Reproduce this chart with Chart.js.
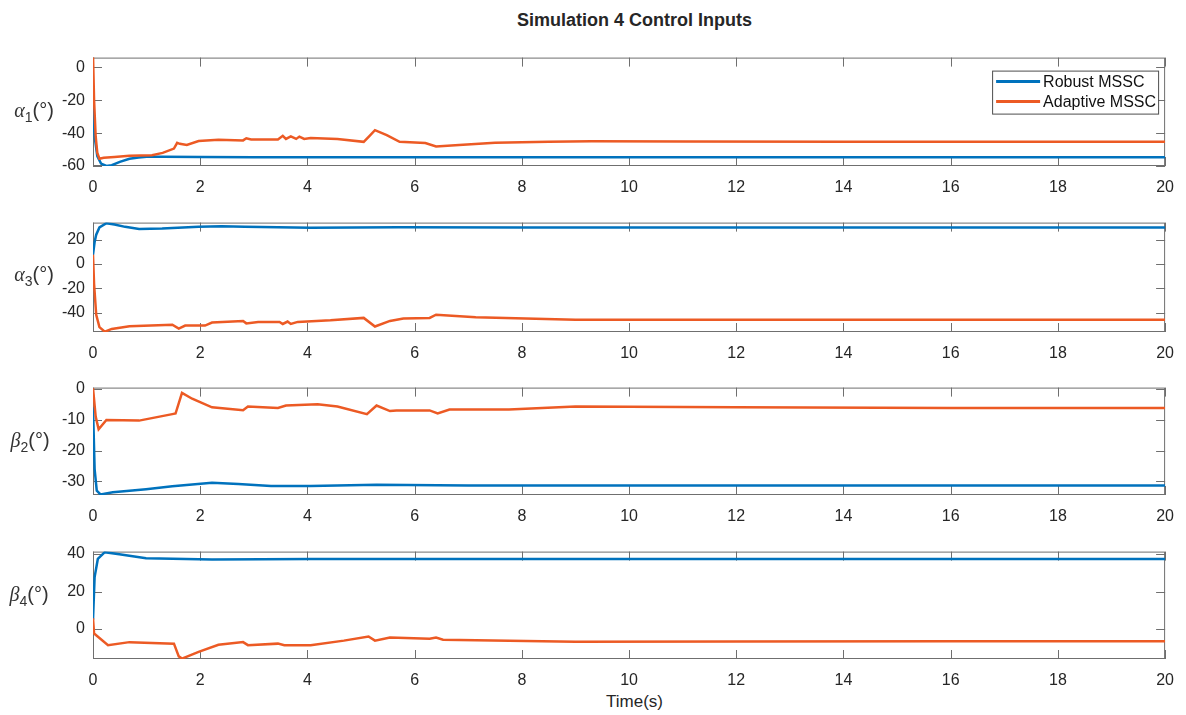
<!DOCTYPE html>
<html>
<head>
<meta charset="utf-8">
<script src="https://cdn.jsdelivr.net/npm/chart.js@4.4.0/dist/chart.umd.min.js"></script>
<style>
  html, body { margin: 0; padding: 0; background: #fff; }
  body { width: 1186px; height: 715px; position: relative; overflow: hidden;
         font-family: "Liberation Sans", Arial, sans-serif; color: #262626; }
  .panel { position: absolute; left: 0; width: 1186px; }
  .title { position: absolute; top: 10px; left: 93px; width: 1083px; text-align: center;
           font-weight: bold; font-size: 18px; }
  .xlabel { position: absolute; top: 692px; left: 93px; width: 1083px; text-align: center; font-size: 17px; }
  .ylab { position: absolute; font-size: 20px; color: #333; white-space: nowrap; transform: translate(-50%, -50%); }
  .ylab i { font-family: "Liberation Serif", serif; }
  .ylab sub { font-size: 14px; }
</style>
</head>
<body>
<div class="title">Simulation 4 Control Inputs</div>

<div class="panel" style="top:40px;height:154px"><canvas id="c1"></canvas></div>
<div class="panel" style="top:205px;height:155px"><canvas id="c2"></canvas></div>
<div class="panel" style="top:370px;height:153px"><canvas id="c3"></canvas></div>
<div class="panel" style="top:534px;height:153px"><canvas id="c4"></canvas></div>

<div class="ylab" style="left:34px;top:112px"><i>α</i><sub>1</sub>(°)</div>
<div class="ylab" style="left:34px;top:276px"><i>α</i><sub>3</sub>(°)</div>
<div class="ylab" style="left:30px;top:442px"><i>β</i><sub>2</sub>(°)</div>
<div class="ylab" style="left:29px;top:596px"><i>β</i><sub>4</sub>(°)</div>

<div class="xlabel">Time(s)</div>

<script>
// series names
const seriesNames = ['Robust MSSC', 'Adaptive MSSC'];
const xTicks = [0, 2, 4, 6, 8, 10, 12, 14, 16, 18, 20];

// alpha_1
const a1RobustT = [0, 0.03, 0.08, 0.15, 0.25, 0.35, 0.5, 0.68, 0.85, 1.0, 1.3, 2, 3, 4, 6, 8, 10, 14, 20];
const a1Robust  = [-25, -42, -54, -58.5, -60, -59.5, -57.5, -55.6, -54.8, -54.4, -54.3, -54.5, -54.6, -54.6, -54.7, -54.7, -54.7, -54.7, -54.7];
const a1AdaptT  = [0, 0.02, 0.05, 0.08, 0.12, 0.2, 0.4, 0.68, 1.1, 1.3, 1.51, 1.57, 1.62, 1.75, 1.97, 2.34, 2.8, 2.86, 2.95, 3.45, 3.54, 3.6, 3.69, 3.79, 3.85, 3.94, 4.06, 4.56, 5.05, 5.16, 5.26, 5.48, 5.72, 6.2, 6.4, 6.83, 7.5, 8.5, 9.3, 11, 14, 17, 20];
const a1Adapt   = [8, -20, -42, -52, -55.6, -55, -54.5, -53.8, -53.4, -52, -49.4, -45.9, -46.5, -47.2, -44.8, -44, -44.4, -43.1, -43.8, -43.8, -41.6, -43.5, -42, -43.5, -42.1, -43.5, -42.9, -43.5, -45.3, -41.6, -38.2, -41.2, -45.3, -46, -48.1, -47.2, -45.9, -45.2, -44.9, -45.1, -45.3, -45.3, -45.3];
const a1Ticks = [-60, -40, -20, 0];

// alpha_3
const a3RobustT = [0, 0.03, 0.06, 0.12, 0.25, 0.4, 0.6, 0.86, 1.29, 1.97, 2.4, 2.83, 4.06, 5.7, 8, 12, 16, 20];
const a3Robust  = [7.6, 18, 24, 30, 33.5, 32.5, 30.5, 28.8, 29.1, 30.6, 30.9, 30.6, 29.8, 30.1, 29.9, 29.9, 29.9, 29.9];
const a3AdaptT  = [0, 0.02, 0.06, 0.12, 0.22, 0.35, 0.68, 1.48, 1.6, 1.72, 2.09, 2.22, 2.8, 2.86, 3.08, 3.48, 3.54, 3.63, 3.69, 3.82, 4.43, 5.05, 5.26, 5.54, 5.79, 6.28, 6.4, 7.14, 9, 12, 16, 20];
const a3Adapt   = [7.6, -16.5, -41.8, -52, -55.8, -53.5, -51.2, -50, -53.2, -50.7, -50.7, -48.2, -46.9, -48.9, -47.7, -47.7, -49.4, -47.4, -49.4, -47.7, -46.4, -44.4, -51.5, -46.9, -44.9, -44.4, -41.8, -43.9, -45.9, -45.9, -46, -46];
const a3Ticks = [-40, -20, 0, 20];

// beta_2
const b2RobustT = [0, 0.03, 0.07, 0.14, 0.37, 0.99, 1.48, 2.22, 2.71, 3.32, 4.06, 5.29, 7, 10, 14, 20];
const b2Robust  = [-6, -26, -33, -34.2, -33.5, -32.5, -31.6, -30.4, -30.8, -31.5, -31.5, -31.1, -31.3, -31.3, -31.3, -31.3];
const b2AdaptT  = [0, 0.05, 0.105, 0.25, 0.86, 1.48, 1.54, 1.66, 1.85, 2.22, 2.8, 2.89, 3.45, 3.6, 4.19, 4.56, 5.11, 5.29, 5.54, 5.66, 6.28, 6.43, 6.65, 7.76, 9, 12, 16, 20];
const b2Adapt   = [0.2, -9, -13.1, -10.1, -10.3, -8.2, -8, -1.3, -3.2, -6, -6.9, -5.7, -6.2, -5.4, -5, -5.7, -8.2, -5.4, -7.2, -7, -7, -8, -6.7, -6.7, -5.7, -6, -6.2, -6.2];
const b2Ticks = [-30, -20, -10, 0];

// beta_4
const b4RobustT = [0, 0.03, 0.09, 0.22, 0.49, 0.99, 2.22, 4.06, 7, 10, 14, 20];
const b4Robust  = [4.9, 27.7, 37.4, 41, 39.9, 37.8, 37.1, 37.4, 37.3, 37.3, 37.3, 37.3];
const b4AdaptT  = [0, 0.02, 0.28, 0.68, 1.51, 1.6, 1.66, 1.97, 2.34, 2.8, 2.89, 3.45, 3.57, 4.06, 4.68, 5.14, 5.26, 5.54, 6.28, 6.4, 6.53, 9, 12, 16, 20];
const b4Adapt   = [5.7, -2.4, -8.6, -7, -7.8, -14.6, -15.8, -12.2, -8.4, -7, -8.6, -7.8, -8.6, -8.6, -6.2, -4, -6.2, -4.5, -5.2, -4.5, -5.7, -6.8, -6.6, -6.5, -6.5];
const b4Ticks = [0, 20, 40];

const BLUE = '#0072BD';
const ORANGE = '#EC5A24';
const AXIS = '#6f6f6f';
const FONT = '"Liberation Sans", Arial, sans-serif';

const pts = (t, v) => t.map((x, i) => ({x: x, y: v[i]}));

// matlab style box with inward ticks on all four sides
const boxPlugin = {
    id: 'box',
    beforeDatasetsDraw(chart) {
        const {ctx, chartArea: a, scales: {x, y}} = chart;
        ctx.save();
        ctx.strokeStyle = AXIS;
        ctx.lineWidth = 1;
        ctx.beginPath();
        x.ticks.forEach(t => {
            const px = Math.round(x.getPixelForValue(t.value)) + 0.5;
            ctx.moveTo(px, a.bottom); ctx.lineTo(px, a.bottom - 9);
            ctx.moveTo(px, a.top); ctx.lineTo(px, a.top + 9);
        });
        y.ticks.forEach(t => {
            const py = Math.round(y.getPixelForValue(t.value)) + 0.5;
            ctx.moveTo(a.left, py); ctx.lineTo(a.left + 9, py);
            ctx.moveTo(a.right, py); ctx.lineTo(a.right - 9, py);
        });
        ctx.stroke();
        ctx.strokeRect(a.left + 0.5, a.top + 0.5, a.width - 1, a.height - 1);
        ctx.restore();
    }
};

// legend box inside the first axes
const legendPlugin = {
    id: 'inLegend',
    afterDraw(chart, args, opts) {
        if (!opts.show) return;
        const {ctx, chartArea: a} = chart;
        const w = 166, h = 43;
        const left = a.right - 7 - w, top = a.top + 13;
        ctx.save();
        ctx.fillStyle = '#fff';
        ctx.fillRect(left, top, w, h);
        ctx.strokeStyle = '#4d4d4d';
        ctx.lineWidth = 1;
        ctx.strokeRect(left + 0.5, top + 0.5, w, h);
        ctx.font = '16px ' + FONT;
        ctx.textBaseline = 'middle';
        chart.data.datasets.forEach((ds, i) => {
            const yy = top + 11 + i * 20;
            ctx.strokeStyle = ds.borderColor;
            ctx.lineWidth = 3;
            ctx.beginPath();
            ctx.moveTo(left + 4, yy); ctx.lineTo(left + 48, yy);
            ctx.stroke();
            ctx.fillStyle = '#111';
            ctx.fillText(ds.label, left + 51, yy + 1);
        });
        ctx.restore();
    }
};

function makeChart(id, robust, adapt, yMin, yMax, yTicks, showLegend) {
    return new Chart(document.getElementById(id), {
        type: 'line',
        data: {
            datasets: [{
                label: seriesNames[0],
                data: robust,
                borderColor: BLUE,
                borderWidth: 2.5,
                pointRadius: 0,
                order: 1
            }, {
                label: seriesNames[1],
                data: adapt,
                borderColor: ORANGE,
                borderWidth: 2.5,
                pointRadius: 0,
                order: 0
            }]
        },
        options: {
            responsive: true,
            maintainAspectRatio: false,
            animation: false,
            layout: { padding: { top: 8, right: 10, left: 0, bottom: 0 } },
            plugins: {
                legend: { display: false },
                tooltip: { enabled: false },
                inLegend: { show: showLegend }
            },
            scales: {
                x: {
                    type: 'linear',
                    min: 0, max: 20,
                    grid: { display: false, drawTicks: false },
                    border: { display: false },
                    afterBuildTicks: s => { s.ticks = xTicks.map(v => ({value: v})); },
                    afterFit: s => { s.height = 28; },
                    ticks: { color: '#262626', padding: 12, maxRotation: 0, font: { size: 16, family: FONT } }
                },
                y: {
                    min: yMin, max: yMax,
                    grid: { display: false, drawTicks: false },
                    border: { display: false },
                    afterBuildTicks: s => { s.ticks = yTicks.map(v => ({value: v})); },
                    afterFit: s => { s.width = 93; },
                    ticks: { color: '#262626', padding: 8, font: { size: 16, family: FONT } }
                }
            }
        },
        plugins: [boxPlugin, legendPlugin]
    });
}

makeChart('c1', pts(a1RobustT, a1Robust), pts(a1AdaptT, a1Adapt), -60, 6, a1Ticks, true);
makeChart('c2', pts(a3RobustT, a3Robust), pts(a3AdaptT, a3Adapt), -56, 34, a3Ticks, false);
makeChart('c3', pts(b2RobustT, b2Robust), pts(b2AdaptT, b2Adapt), -34.4, 0.4, b2Ticks, false);
makeChart('c4', pts(b4RobustT, b4Robust), pts(b4AdaptT, b4Adapt), -16, 41.3, b4Ticks, false);
</script>
</body>
</html>
